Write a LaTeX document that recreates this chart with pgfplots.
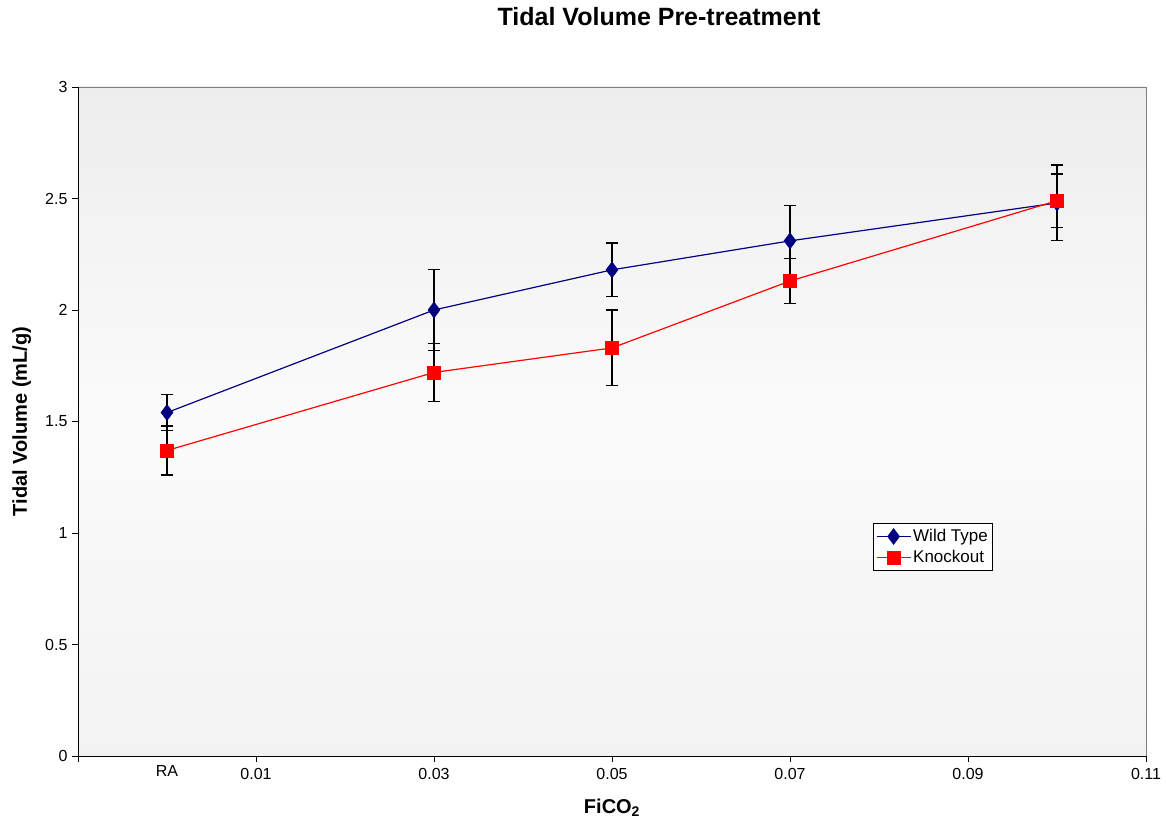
\documentclass[border=0pt]{standalone}
\usepackage{pgfplots}
\pgfplotsset{compat=1.18}
\usepackage{pgfplotstable}
\usepackage{fontspec}
\setmainfont{Liberation Sans}
\definecolor{wtblue}{HTML}{000080}
\definecolor{kored}{HTML}{FF0000}

\pgfplotstableread{
x y err
0 1.54 0.08
0.03 2.00 0.18
0.05 2.18 0.12
0.07 2.31 0.16
0.10 2.48 0.17
}\wt
\pgfplotstableread{
x y err
0 1.37 0.11
0.03 1.72 0.13
0.05 1.83 0.17
0.07 2.13 0.10
0.10 2.49 0.12
}\ko

\begin{document}
\begin{tikzpicture}
\path[use as bounding box] (-78bp,-66bp) rectangle (1088bp,756bp);
\begin{axis}[
  scale only axis,
  width=1068bp, height=669bp,
  xmin=-0.01, xmax=0.11,
  ymin=0, ymax=3,
  xtick={-0.01,0.01,0.03,0.05,0.07,0.09,0.11},
  xticklabels={,0.01,0.03,0.05,0.07,0.09,0.11},
  ytick={0,0.5,1,1.5,2,2.5,3},
  extra x ticks={0},
  extra x tick labels={RA},
  extra x tick style={major tick length=0pt, tick label style={yshift=-3bp}},
  /pgf/number format/assume math mode=true,
  tick label style={font=\fontsize{16bp}{18bp}\selectfont, black},
  xticklabel style={yshift=-3bp},
  yticklabel style={xshift=-1bp},
  tick align=outside,
  major tick length=6bp,
  tick style={black, line width=0.8pt},
  axis x line*=bottom,
  axis y line*=left,
  axis line style={black, line width=1pt, -},
  axis background/.style={top color=gray!14, bottom color=gray!10, middle color=white!97!gray, draw=gray, line width=0.8pt},
  title={\textbf{Tidal Volume Pre-treatment}},
  title style={at={(axis description cs:0.544,1)}, anchor=base, yshift=56bp, font=\fontsize{25bp}{28bp}\selectfont},
  xlabel={\textbf{FiCO\textsubscript{2}}},
  xlabel style={at={(axis description cs:0.5,0)}, anchor=base, yshift=-57bp, font=\fontsize{20bp}{22bp}\selectfont},
  ylabel={\textbf{Tidal Volume (mL/g)}},
  ylabel style={at={(axis description cs:-0.0478,0.5)}, anchor=base, rotate=0, font=\fontsize{20bp}{22bp}\selectfont},
  legend style={at={(axis description cs:0.744,0.348)}, anchor=north west, draw=black, line width=0.8pt,
    font=\fontsize{17bp}{19bp}\selectfont, row sep=3bp, inner xsep=3bp, inner ysep=4bp,
    nodes={inner xsep=2bp}},
  legend image code/.code={\draw[mark repeat=2,mark phase=2] plot coordinates {(0bp,0bp)(17bp,0bp)(34bp,0bp)};},
  legend cell align=left,
  clip=false,
]
\addplot+[wtblue, line width=1.2pt, mark=diamond*, mark size=8bp, mark options={fill=wtblue, draw=wtblue, line width=0.5pt},
  error bars/.cd, y dir=both, y explicit, error bar style={black, line width=1.2pt},
  error mark options={black, line width=1.2pt, mark size=6bp, rotate=90}]
  table[x=x, y=y, y error=err] {\wt};
\addlegendentry{Wild Type}
\addplot+[kored, line width=1.2pt, mark=square*, mark size=6.5bp, mark options={fill=kored, draw=kored, line width=0.5pt},
  error bars/.cd, y dir=both, y explicit, error bar style={black, line width=1.2pt},
  error mark options={black, line width=1.2pt, mark size=6bp, rotate=90}]
  table[x=x, y=y, y error=err] {\ko};
\addlegendentry{Knockout}
\end{axis}
\end{tikzpicture}
\end{document}
